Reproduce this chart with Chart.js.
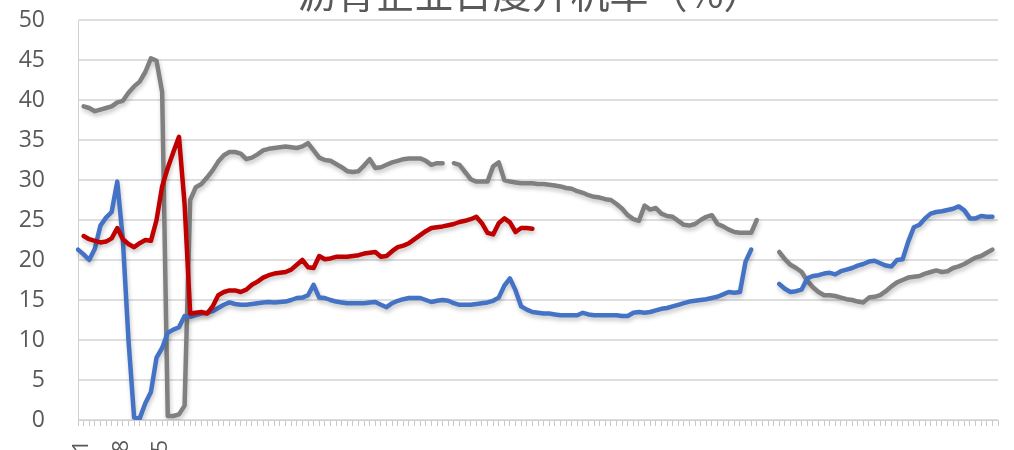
<!DOCTYPE html>
<html>
<head>
<meta charset="utf-8">
<script src="https://cdn.jsdelivr.net/npm/chart.js@4.4.1/dist/chart.umd.min.js"></script>
<style>
  html, body { margin: 0; padding: 0; background: #ffffff; overflow: hidden; }
  #wrap { position: relative; width: 1014px; height: 450px; }
</style>
</head>
<body>
<div id="wrap"><canvas id="c"></canvas></div>
<script>
const chartTitle = '沥青企业日度开机率（%）';
const seriesNames = ['2019年', '2020年', '2021年'];
const yTicks = [0, 5, 10, 15, 20, 25, 30, 35, 40, 45, 50];

// category labels: consecutive days (M/D)
const categories = [];
for (let i = 0; i < 165; i++) {
  const d = new Date(2021, 0, 1 + i);
  categories.push((d.getMonth() + 1) + '/' + d.getDate());
}

const grayValues = [
  null, 39.2, 39.0, 38.6, 38.8, 39.0, 39.2, 39.7, 39.9, 40.9,
  41.7, 42.3, 43.5, 45.2, 44.9, 41.0, 0.5, 0.5, 0.7, 1.8,
  27.5, 29.1, 29.5, 30.3, 31.2, 32.3, 33.1, 33.5, 33.5, 33.3,
  32.6, 32.8, 33.2, 33.7, 33.9, 34.0, 34.1, 34.2, 34.1, 34.0,
  34.2, 34.6, 33.7, 32.8, 32.5, 32.4, 32.0, 31.6, 31.1, 31.0,
  31.1, 31.8, 32.6, 31.5, 31.6, 31.9, 32.2, 32.4, 32.6, 32.7,
  32.7, 32.7, 32.4, 31.9, 32.1, 32.1, null, 32.1, 31.9, 31.0,
  30.1, 29.8, 29.8, 29.8, 31.7, 32.2, 30.0, 29.8, 29.7, 29.6,
  29.6, 29.6, 29.5, 29.5, 29.4, 29.3, 29.2, 29.0, 28.9, 28.6,
  28.4, 28.1, 27.9, 27.8, 27.6, 27.5, 27.0, 26.4, 25.6, 25.1,
  24.9, 26.8, 26.3, 26.5, 25.8, 25.5, 25.4, 24.9, 24.4, 24.3,
  24.5, 25.0, 25.4, 25.6, 24.5, 24.2, 23.8, 23.5, 23.4, 23.4,
  23.4, 25.0, null, null, null, 21.0, 20.1, 19.4, 19.0, 18.5,
  17.4, 16.6, 16.0, 15.6, 15.6, 15.5, 15.3, 15.1, 15.0, 14.8,
  14.7, 15.3, 15.4, 15.6, 16.1, 16.7, 17.2, 17.5, 17.8, 17.9,
  18.0, 18.3, 18.5, 18.7, 18.5, 18.6, 19.0, 19.2, 19.5, 19.9,
  20.3, 20.5, 20.9, 21.3, null
];

const blueValues = [
  21.3, 20.7, 20.0, 21.4, 24.3, 25.3, 26.0, 29.8, 22.5, 10.0,
  0.3, 0.2, 2.1, 3.5, 7.8, 9.0, 10.9, 11.3, 11.6, 13.0,
  12.9, 13.1, 13.3, 13.4, 13.6, 14.0, 14.4, 14.7, 14.5, 14.4,
  14.4, 14.5, 14.6, 14.7, 14.75, 14.7, 14.75, 14.8, 15.0, 15.25,
  15.3, 15.6, 16.9, 15.3, 15.25, 15.0, 14.8, 14.7, 14.6, 14.6,
  14.6, 14.6, 14.7, 14.75, 14.4, 14.1, 14.6, 14.9, 15.1, 15.25,
  15.25, 15.25, 15.0, 14.75, 14.9, 15.0, 14.9, 14.6, 14.4, 14.4,
  14.4, 14.5, 14.6, 14.7, 14.9, 15.3, 16.8, 17.7, 16.2, 14.2,
  13.8, 13.5, 13.4, 13.3, 13.3, 13.2, 13.1, 13.1, 13.1, 13.1,
  13.4, 13.2, 13.1, 13.1, 13.1, 13.1, 13.1, 13.0, 13.0, 13.4,
  13.5, 13.4, 13.5, 13.7, 13.9, 14.0, 14.2, 14.4, 14.6, 14.8,
  14.9, 15.0, 15.1, 15.25, 15.4, 15.7, 16.0, 15.9, 16.0, 19.8,
  21.3, null, null, null, null, 17.0, 16.4, 16.0, 16.1, 16.3,
  17.7, 18.0, 18.1, 18.3, 18.4, 18.2, 18.6, 18.8, 19.0, 19.3,
  19.5, 19.8, 19.9, 19.6, 19.3, 19.2, 20.0, 20.1, 22.3, 24.1,
  24.4, 25.2, 25.8, 26.0, 26.1, 26.25, 26.4, 26.7, 26.2, 25.2,
  25.2, 25.5, 25.4, 25.4, null
];

const redValues = [
  null, 23.0, 22.6, 22.4, 22.2, 22.3, 22.7, 24.0, 22.6, 22.0,
  21.6, 22.1, 22.5, 22.4, 25.0, 29.2, 31.5, 33.5, 35.4, 27.0,
  13.3, 13.4, 13.5, 13.3, 14.2, 15.6, 16.0, 16.2, 16.2, 16.0,
  16.3, 16.9, 17.3, 17.8, 18.1, 18.3, 18.4, 18.5, 18.8, 19.4,
  20.0, 19.1, 19.0, 20.5, 20.1, 20.2, 20.4, 20.4, 20.4, 20.5,
  20.6, 20.8, 20.9, 21.0, 20.4, 20.5, 21.1, 21.6, 21.8, 22.1,
  22.6, 23.1, 23.6, 24.0, 24.1, 24.2, 24.35, 24.5, 24.75, 24.9,
  25.1, 25.4, 24.6, 23.4, 23.2, 24.6, 25.2, 24.7, 23.5, 24.0,
  24.0, 23.9
];

const textColor = '#595959';
const gridColor = '#dedede';

const titlePlugin = {
  id: 'croppedTitle',
  afterDraw(chart) {
    const ctx = chart.ctx;
    ctx.save();
    ctx.font = '39px "Noto Sans CJK SC", sans-serif';
    ctx.fillStyle = textColor;
    ctx.textAlign = 'center';
    ctx.textBaseline = 'alphabetic';
    ctx.fillText(chartTitle, 530, 8);
    ctx.restore();
  }
};

const shadowPlugin = {
  id: 'lineShadow',
  beforeDatasetsDraw(chart) {
    const ctx = chart.ctx;
    ctx.save();
    ctx.shadowColor = 'rgba(0,0,0,0.22)';
    ctx.shadowBlur = 4;
    ctx.shadowOffsetX = 1;
    ctx.shadowOffsetY = 3;
  },
  afterDatasetsDraw(chart) {
    chart.ctx.restore();
  }
};

const lineStyle = {
  borderWidth: 4.5,
  pointRadius: 0,
  pointHoverRadius: 0,
  tension: 0,
  fill: false,
  spanGaps: false,
  borderCapStyle: 'round',
  borderJoinStyle: 'round'
};

new Chart(document.getElementById('c'), {
  type: 'line',
  data: {
    labels: categories,
    datasets: [
      Object.assign({ label: seriesNames[2], data: redValues, borderColor: '#c00000', order: 1 }, lineStyle),
      Object.assign({ label: seriesNames[1], data: blueValues, borderColor: '#4472c4', order: 2 }, lineStyle),
      Object.assign({ label: seriesNames[0], data: grayValues, borderColor: '#808080', order: 3 }, lineStyle)
    ]
  },
  options: {
    responsive: true,
    maintainAspectRatio: false,
    animation: false,
    layout: { padding: { top: 20, right: 16, bottom: 0, left: 0 } },
    plugins: {
      legend: { display: false },
      tooltip: { enabled: false },
      title: { display: false }
    },
    scales: {
      x: {
        type: 'category',
        offset: false,
        grid: { display: true, drawOnChartArea: false, drawTicks: true, tickLength: 6, color: '#c8c8c8', offset: false },
        border: { display: true, color: '#d0d0d0', width: 1 },
        ticks: {
          autoSkip: false,
          minRotation: 90,
          maxRotation: 90,
          padding: 14,
          labelOffset: 4,
          color: textColor,
          font: { family: '"Open Sans", sans-serif', size: 22 },
          callback: function (value, index) {
            return (index % 7 === 0 && index <= 14) ? this.getLabelForValue(value) : '';
          }
        },
        afterFit(scale) {
          scale.height = 30;
          scale.paddingLeft = 0;
          scale.paddingRight = 0;
        }
      },
      y: {
        min: 0,
        max: 50,
        afterBuildTicks(scale) { scale.ticks = yTicks.map(v => ({ value: v })); },
        grid: { color: gridColor, lineWidth: 2, drawTicks: false },
        border: { display: true, color: '#d0d0d0', width: 1 },
        ticks: {
          padding: 33,
          color: textColor,
          font: { family: '"Open Sans", sans-serif', size: 23 }
        },
        afterFit(scale) {
          scale.width = 78;
          scale.paddingTop = 0;
          scale.paddingBottom = 0;
        }
      }
    }
  },
  plugins: [shadowPlugin, titlePlugin]
});
</script>
</body>
</html>
